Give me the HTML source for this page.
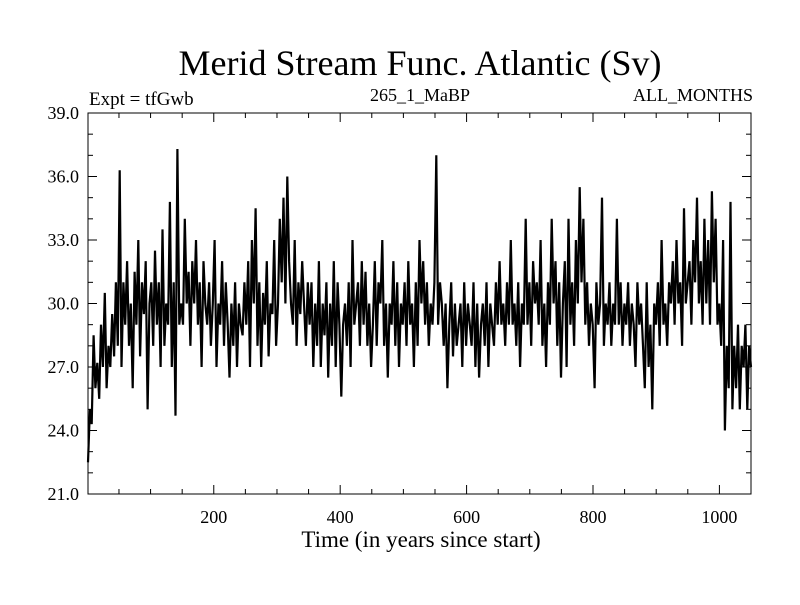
<!DOCTYPE html>
<html><head><meta charset="utf-8"><style>
body{margin:0;background:#fff}
svg text{font-family:"Liberation Serif",serif;fill:#000}
</style></head><body>
<svg id="c" width="800" height="600">
<text x="420" y="75" font-size="36" text-anchor="middle">Merid Stream Func. Atlantic (Sv)</text>
<text x="89" y="105" font-size="19">Expt = tfGwb</text>
<text x="420" y="101" font-size="18" text-anchor="middle">265_1_MaBP</text>
<text x="753" y="101" font-size="18" text-anchor="end">ALL_MONTHS</text>
<text x="421" y="547" font-size="23" text-anchor="middle">Time (in years since start)</text>
<g id="axes"></g>
<path id="line" fill="none" stroke="#000" stroke-width="2.2" stroke-linejoin="miter"/>
<rect x="88" y="113" width="663" height="381" fill="none" stroke="#000" stroke-width="1"/>
</svg>
<script>
const values=[22.5,25,24.3,28.5,26,27.2,25.5,29,27,30.5,26,28,27,29.5,27.5,31,28,
36.3,27,31,29,32,28,30,26,31.5,29,33,27.5,31,29.5,32,25,30,
31,28,32.5,29,31,27,33.5,28,30,29,34.8,27,31,24.7,37.3,29,30,
29,34,30,31.5,28,32,30,33,29,31,27,32,30,29,31,28,30,
33,27,30,29,32,28,31,29,26.5,30,28,31,27,30,29,28.5,31,
29,32,27,33,30,34.5,28,31,27,30.5,29,32,27.5,30,29.5,33,28,
30,34,31,35,30,36,32,30,29,33,28,31,29.5,32,30,28,31,
29,31,27,30,28,32,27,30,28.5,31,26.5,30,28,32,27,31,29,
25.6,29,30,28,31,27,33,29,30,31,28,32,29,31.5,28,30,27,
29,32,28,31,30,33,28,30,26.5,30,29,32,28,31,27,30,29,
31,28,32,29,30,27,31,28,33,30,32,29,31,28,30,29,31,
37,29,31,30,28,30,26,29,31,27.5,30,28,29,30,27,31,28,
30,29,28,31,27,30,26.5,29,30,28,31,27,30,29,28,31,29,
32,29,30,28,31,29,33,29,30,28,31,27,30,29,34,29,31,
28,32,30,31,29,33,28,30,27,31,29,34,30,32,28,31,26.5,
30,32,27,34,29,31,28,33,30,35.5,31,34,29,31,28,30,29,
26,31,29,30,35,28,30,29,31,28,30,29,34,29,31,28,30,
29,31,28,30,29,27,31,29,30,28,26,31,27,29,25,30,29,
31,28,33,29,30,28,31,30,32,29,33,30,31,28,34.5,30,31,
32,29,33,31,35,30,32,29,34,30,33,29,35.3,31,34,29,30,
28,33,24,28,26,34.8,25,28,26,29,25,28,27,29,25,28,27];
const yTicks=[21,24,27,30,33,36,39];
const xTicks=[200,400,600,800,1000];
const X0=1,X1=1050,Y0=21,Y1=39;
const px=v=>88+(v-X0)/(X1-X0)*663;
const py=v=>494-(v-Y0)/(Y1-Y0)*381;
const ns='http://www.w3.org/2000/svg';
const ax=document.getElementById('axes');
function ln(x1,y1,x2,y2,name){const l=document.createElementNS(ns,'line');
l.setAttribute('x1',x1);l.setAttribute('y1',y1);l.setAttribute('x2',x2);l.setAttribute('y2',y2);
l.setAttribute('stroke','#000');


ax.appendChild(l);}
function tx(x,y,s,anchor,name){const t=document.createElementNS(ns,'text');
t.setAttribute('x',x);t.setAttribute('y',y);t.setAttribute('font-size','18');t.setAttribute('text-anchor',anchor);t.textContent=s;


ax.appendChild(t);}
for(let v=Y0;v<=Y1;v++){const L=(v%3===0)?9:5;ln(88,py(v),88+L,py(v),'y-tick');ln(751,py(v),751-L,py(v),'y-tick');}
yTicks.forEach(v=>tx(79,py(v)+6,v.toFixed(1),'end','y-tick-label'));
for(let v=50;v<X1;v+=50){const L=(v%200===0)?9:5;ln(px(v),494,px(v),494-L,'x-tick');ln(px(v),113,px(v),113+L,'x-tick');}
xTicks.forEach(v=>tx(px(v),523,String(v),'middle','x-tick-label'));
const step=(X1-X0)/(values.length-1);
let d='';values.forEach((v,i)=>{d+=(i?'L':'M')+px(X0+i*step).toFixed(1)+','+py(v).toFixed(1);});
document.getElementById('line').setAttribute('d',d);
</script>
</body></html>
